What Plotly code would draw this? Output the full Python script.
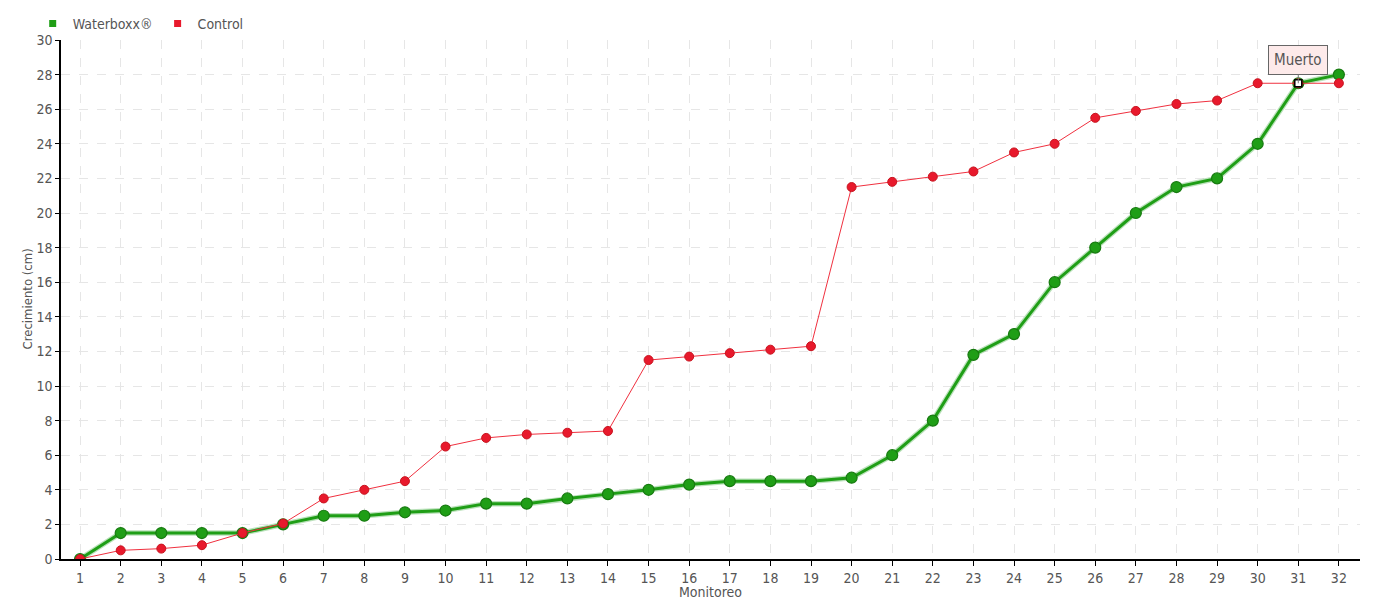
import plotly.graph_objects as go

monitoreo = list(range(1, 33))
waterboxx = [0, 1.5, 1.5, 1.5, 1.5, 2, 2.5, 2.5, 2.7, 2.8, 3.2, 3.2, 3.5, 3.75, 4, 4.3,
             4.5, 4.5, 4.5, 4.7, 6, 8, 11.8, 13, 16, 18, 20, 21.5, 22, 24, 27.5, 28]
control = [0, 0.5, 0.6, 0.8, 1.5, 2.05, 3.5, 4, 4.5, 6.5, 7, 7.2, 7.3, 7.4, 11.5, 11.7,
           11.9, 12.1, 12.3, 21.5, 21.8, 22.1, 22.4, 23.5, 24, 25.5, 25.9, 26.3, 26.5, 27.5, 27.5, 27.5]
muerto_x = 31
muerto_y = 27.5
y_ticks = list(range(0, 31, 2))

FONT = "Liberation Sans Narrow, DejaVu Sans Condensed, sans-serif"
GREEN = "#1f9e16"
RED = "#e8192c"

fig = go.Figure()
fig.add_trace(go.Scatter(x=monitoreo, y=waterboxx, mode="lines",
                         line=dict(color="rgba(26,156,26,0.3)", width=5.5),
                         showlegend=False, hoverinfo="skip"))
fig.add_trace(go.Scatter(x=monitoreo, y=waterboxx, mode="lines+markers", name="Waterboxx®",
                         line=dict(color=GREEN, width=3), showlegend=False,
                         marker=dict(size=11, color=GREEN, line=dict(color="#177a10", width=1.2))))
fig.add_trace(go.Scatter(x=monitoreo, y=control, mode="lines+markers", name="Control",
                         line=dict(color="#f0303f", width=1), showlegend=False,
                         marker=dict(size=9, color=RED, line=dict(color="#c8141f", width=1))))
fig.add_trace(go.Scatter(x=[muerto_x], y=[muerto_y], mode="markers", showlegend=False,
                         marker=dict(symbol="square", size=7, color="white",
                                     line=dict(color="black", width=1.5))))
fig.add_trace(go.Scatter(x=[None], y=[None], mode="markers", name="Waterboxx®",
                         marker=dict(symbol="square", size=7, color=GREEN)))
fig.add_trace(go.Scatter(x=[None], y=[None], mode="markers", name="Control",
                         marker=dict(symbol="square", size=7, color=RED)))

fig.add_annotation(x=muerto_x, y=muerto_y, text="Muerto", showarrow=True,
                   arrowhead=0, arrowwidth=1, arrowcolor="#777", ax=0, ay=-23,
                   bgcolor="#fdeaea", bordercolor="#666", borderwidth=1, borderpad=5,
                   font=dict(family=FONT, size=15, color="#555"))
# y-axis title placed close to tick labels
fig.add_annotation(xref="paper", yref="paper", x=0, y=0.5, xshift=-34,
                   text="Crecimiento (cm)", textangle=-90, showarrow=False,
                   xanchor="center", yanchor="middle",
                   font=dict(family=FONT, size=13, color="#555"))

fig.update_layout(
    width=1372, height=592,
    margin=dict(l=53, r=20, t=32, b=41, autoexpand=False),
    paper_bgcolor="white", plot_bgcolor="white",
    font=dict(family=FONT, size=14, color="#555"),
    legend=dict(orientation="h", x=0.018, y=1.0, xref="container", yref="container",
                xanchor="left", yanchor="top", font=dict(size=14, color="#555"),
                bgcolor="rgba(0,0,0,0)", itemwidth=30, tracegroupgap=0),
    xaxis=dict(range=[0.53, 32.52], tickmode="array", tickvals=monitoreo,
               showgrid=True, gridcolor="#e6e6e6", griddash="dash",
               showline=True, linecolor="black", linewidth=1.5,
               ticks="outside", ticklen=5, tickcolor="black", automargin=False,
               title=dict(text="Monitoreo", standoff=2, font=dict(size=14, color="#555")),
               zeroline=False),
    yaxis=dict(range=[0, 30], tickmode="array", tickvals=y_ticks,
               showgrid=True, gridcolor="#e6e6e6", griddash="dash",
               showline=True, linecolor="black", linewidth=1.5,
               ticks="outside", ticklen=4, tickcolor="black", automargin=False,
               zeroline=False),
)

fig.write_html("out.html")
